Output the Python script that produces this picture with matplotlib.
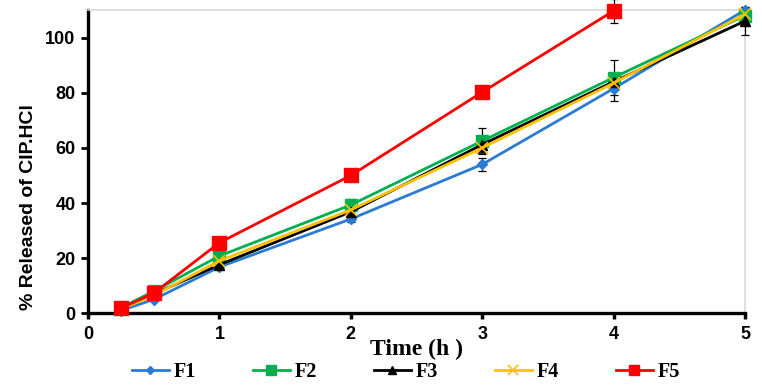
import numpy as np
import matplotlib
matplotlib.use("Agg")
import matplotlib.pyplot as plt
from matplotlib.lines import Line2D

time = [0.25, 0.5, 1, 2, 3, 4, 5]
series_names = ["F1", "F2", "F3", "F4", "F5"]
f1 = [1.0, 5.0, 16.8, 34.2, 54.0, 81.5, 110.0]
f2 = [2.0, 8.0, 20.8, 39.3, 62.5, 85.5, 108.0]
f3 = [1.5, 7.0, 17.6, 36.8, 61.2, 84.0, 106.0]
f4 = [1.5, 6.5, 19.0, 37.5, 60.0, 83.5, 108.5]
f5 = [1.8, 7.3, 25.6, 50.0, 80.2, 109.7, np.nan]
f1_err = [0.3, 0.5, 0.8, 1.0, 2.5, 4.5, 1.0]
f2_err = [0.3, 0.5, 0.8, 2.0, 4.8, 6.2, 1.0]
f3_err = [0.3, 0.5, 0.8, 1.2, 2.5, 3.0, 5.0]
f4_err = [0.3, 0.5, 0.8, 1.0, 2.0, 2.0, 1.0]
f5_err = [0.3, 0.5, 0.8, 1.0, 2.0, 4.3, np.nan]
x_ticks = [0, 1, 2, 3, 4, 5]
y_ticks = [0, 20, 40, 60, 80, 100]

fig = plt.figure(figsize=(7.62, 3.89), dpi=100)
ax = fig.add_axes([88/762, 1-313.3/389, (745-88)/762, (313.3-10)/389])

styles = [
    dict(color="#2A7BD3", marker="D", ms=5.5),
    dict(color="#00B050", marker="s", ms=8),
    dict(color="#000000", marker="^", ms=7),
    dict(color="#FFC000", marker="x", ms=8, mew=1.2),
    dict(color="#FF0000", marker="s", ms=9.5),
]
legend_ms = [4.5, 6.5, 6, 7, 7]
data = [f1, f2, f3, f4, f5]
errs = [f1_err, f2_err, f3_err, f4_err, f5_err]
handles = []
for name, y, e, st, lms in zip(series_names, data, errs, styles, legend_ms):
    ax.errorbar(time, y, yerr=e, ecolor="black", elinewidth=0.9, capsize=3,
                capthick=0.9, lw=2, clip_on=False, zorder=3, **st)
    hst = dict(st)
    hst["ms"] = lms
    handles.append(Line2D([], [], lw=2, label=name, **hst))

ax.set_xlim(0, 5)
ax.set_ylim(0, 110)
ax.set_xticks(x_ticks)
ax.set_yticks(y_ticks)
for lbl in ax.get_xticklabels() + ax.get_yticklabels():
    lbl.set_fontfamily("Liberation Sans")
    lbl.set_fontweight("bold")
    lbl.set_fontsize(13)
ax.tick_params(axis="y", width=2, length=5, direction="out", color="black", pad=4)
ax.tick_params(axis="x", width=2.5, length=4, direction="out", color="black", pad=5)
for s in ["left", "bottom"]:
    ax.spines[s].set_linewidth(2.4)
    ax.spines[s].set_color("black")
for s in ["top", "right"]:
    ax.spines[s].set_linewidth(1.2)
    ax.spines[s].set_color("#D9D9D9")

ax.set_ylabel("% Released of CIP.HCl", fontfamily="Liberation Sans", fontweight="bold", fontsize=14)
ax.yaxis.set_label_coords(-0.0776, 0.349)
ax.text(0.5, -0.1375, "Time (h )", transform=ax.transAxes, ha="center", va="baseline",
        fontfamily="Liberation Serif", fontweight="bold", fontsize=17)

fig.legend(handles=handles, loc="center", bbox_to_anchor=(0.533, 0.044), ncol=5, frameon=False,
           prop=dict(family="Liberation Serif", weight="bold", size=14.5),
           handlelength=1.85, columnspacing=2.8, handletextpad=0.25)

fig.savefig("out.png", dpi=100)
